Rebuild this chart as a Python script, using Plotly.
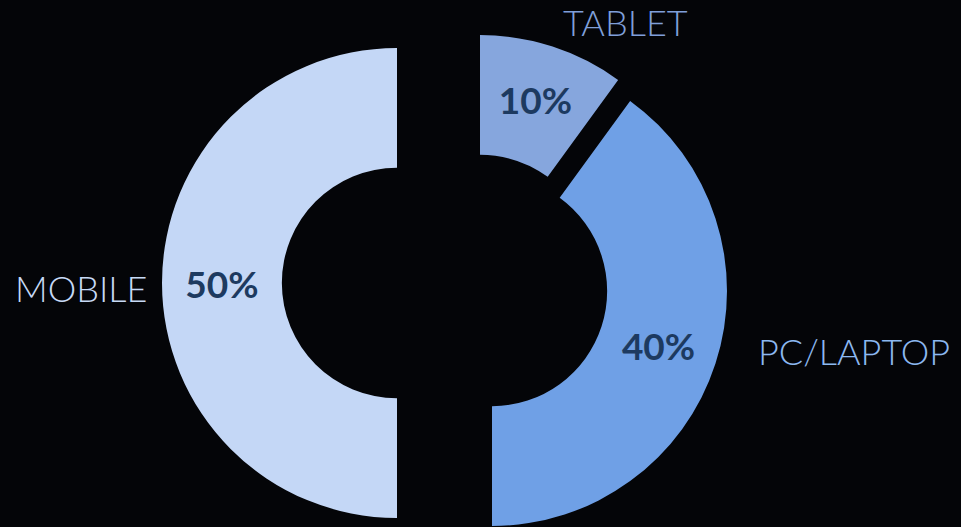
import plotly.graph_objects as go

# ---- data ----
categories = ["TABLET", "PC/LAPTOP", "MOBILE"]
values = [10, 40, 50]

# ---- styling ----
slice_colors = ["#86a6dd", "#6fa0e6", "#c4d7f6"]
name_colors = ["#7f9fd9", "#8cb8f0", "#c7daf6"]
pct_color = "#1d3a60"
bg = "#040508"

W, H = 961, 527
R = 235          # outer radius in px
HOLE = 0.49

# exploded slice centres (px, y downward) and outside-name positions
slice_centers = [(480, 270), (492, 291), (397, 283)]
name_pos = [(625, 22), (854, 351), (81, 288)]

fig = go.Figure()
for i, cat in enumerate(categories):
    cx, cy = slice_centers[i]
    colors = [slice_colors[j] if j == i else "rgba(0,0,0,0)" for j in range(len(categories))]
    tmpl = ["%{percent:.0%}" if j == i else "" for j in range(len(categories))]
    fig.add_trace(go.Pie(
        labels=categories,
        values=values,
        sort=False,
        direction="clockwise",
        rotation=0,
        hole=HOLE,
        marker=dict(colors=colors, line=dict(width=0)),
        texttemplate=tmpl,
        textposition="inside",
        insidetextorientation="horizontal",
        textfont=dict(family="Lato", size=37, color=pct_color, weight="bold"),
        showlegend=False,
        hoverinfo="label+percent",
        domain=dict(
            x=[(cx - R) / W, (cx + R) / W],
            y=[1 - (cy + R) / H, 1 - (cy - R) / H],
        ),
        name=cat,
    ))

for i, cat in enumerate(categories):
    x, y = name_pos[i]
    fig.add_annotation(
        x=x / W, y=1 - y / H, xref="paper", yref="paper",
        text=cat, showarrow=False,
        font=dict(family="Lato", size=36, color=name_colors[i], weight=300),
        xanchor="center", yanchor="middle",
    )

fig.update_layout(
    width=W, height=H,
    margin=dict(l=0, r=0, t=0, b=0),
    paper_bgcolor=bg, plot_bgcolor=bg,
    showlegend=False,
)

fig.write_html("out.html")
